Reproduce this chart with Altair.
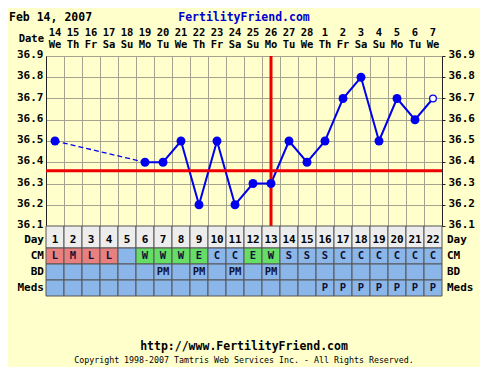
import altair as alt
import pandas as pd

# ---------------- data ----------------
day_numbers = list(range(1, 23))
date_labels = ["14", "15", "16", "17", "18", "19", "20", "21", "22", "23", "24",
               "25", "26", "27", "28", "1", "2", "3", "4", "5", "6", "7"]
weekday_labels = ["We", "Th", "Fr", "Sa", "Su", "Mo", "Tu", "We", "Th", "Fr", "Sa",
                  "Su", "Mo", "Tu", "We", "Th", "Fr", "Sa", "Su", "Mo", "Tu", "We"]
temperatures = [36.5, None, None, None, None, 36.4, 36.4, 36.5, 36.2, 36.5, 36.2,
                36.3, 36.3, 36.5, 36.4, 36.5, 36.7, 36.8, 36.5, 36.7, 36.6, 36.7]
cm_codes = ["L", "M", "L", "L", "", "W", "W", "W", "E", "C", "C",
            "E", "W", "S", "S", "S", "C", "C", "C", "C", "C", "C"]
bd_codes = ["", "", "", "", "", "", "PM", "", "PM", "", "PM",
            "", "PM", "", "", "", "", "", "", "", "", ""]
meds_codes = ["", "", "", "", "", "", "", "", "", "", "",
              "", "", "", "", "P", "P", "P", "P", "P", "P", "P"]
temp_ticks = [36.1, 36.2, 36.3, 36.4, 36.5, 36.6, 36.7, 36.8, 36.9]
coverline_temp = 36.36
ovulation_day = 13
chart_date = "Feb 14, 2007"
site_name = "FertilityFriend.com"
footer_url = "http://www.FertilityFriend.com"
copyright_text = "Copyright 1998-2007 Tamtris Web Services Inc. - All Rights Reserved."
row_names = ["Day", "CM", "BD", "Meds"]

# ---------------- styling ----------------
FONT = "DejaVu Sans Mono"
BG = "#FFFFCC"
GRID = "#A3A38F"
BLUE = "#0000EE"
RED = "#EE0000"
CELL_BLUE = "#8AB6EA"
CELL_RED = "#E88080"
CELL_GREEN = "#66DD66"
DAY_GREY = "#EDEDED"
FS = 10.5

W, H = 396, 170
row_top = [0, 22, 38, 54]
row_bot = [22, 38, 54, 70]
row_dy = [3, 0, 0, 0]

df = pd.DataFrame({
    "day": day_numbers, "date": date_labels, "wd": weekday_labels,
    "temp": temperatures,
})
measured = df.dropna(subset=["temp"]).reset_index(drop=True)
dashed = measured.iloc[[0, 1]]
solid = measured.iloc[1:]
filled_pts = measured.iloc[:-1]
open_pt = measured.iloc[-1:]

xs = alt.Scale(domain=[0.5, 22.5], nice=False, zero=False)
ys = alt.Scale(domain=[36.1, 36.9], nice=False, zero=False)
ts = alt.Scale(domain=[0, 70], range=[H, H + 70], nice=False, zero=False)

x_axis = alt.Axis(values=[i + 0.5 for i in range(23)], grid=True, gridColor=GRID,
                  gridOpacity=1, labels=False, ticks=False, domain=True,
                  domainColor="#222", title=None, orient="bottom")
y_axis_left = alt.Axis(values=temp_ticks, format=".1f", grid=True, gridColor=GRID,
                       gridOpacity=1, ticks=False, labelPadding=3, domainColor="#222",
                       labelFont=FONT, labelFontSize=11, labelFontWeight="bold",
                       labelColor="#000", title=None, orient="left", labelOffset=-1.5)
y_axis_right = alt.Axis(values=temp_ticks, format=".1f", grid=False, ticks=True,
                        tickSize=3, tickColor="#222", labelPadding=3,
                        domainColor="#222", labelFont=FONT, labelFontSize=11,
                        labelFontWeight="bold", labelColor="#000", title=None,
                        orient="right", labelOffset=-1.5)


def X(field="day"):
    return alt.X(f"{field}:Q", scale=xs, axis=x_axis)


def Y(field="temp"):
    return alt.Y(f"{field}:Q", scale=ys, axis=y_axis_left)


line_solid = alt.Chart(solid).mark_line(color=BLUE, strokeWidth=2).encode(x=X(), y=Y())
line_dash = alt.Chart(dashed).mark_line(color=BLUE, strokeWidth=1.3,
                                        strokeDash=[5, 3]).encode(x=X(), y=Y())
cover = alt.Chart(pd.DataFrame({"c": [coverline_temp]})).mark_rule(
    color=RED, strokeWidth=3).encode(y=Y("c"))
ovul = alt.Chart(pd.DataFrame({"o": [ovulation_day]})).mark_rule(
    color=RED, strokeWidth=3).encode(x=X("o"))
pts = alt.Chart(filled_pts).mark_circle(color=BLUE, size=80, opacity=1).encode(x=X(), y=Y())
pt_open = alt.Chart(open_pt).mark_point(color=BLUE, fill="white", filled=False,
                                        size=45, strokeWidth=1.3, opacity=1).encode(x=X(), y=Y())


def txt(**kw):
    base = dict(font=FONT, fontSize=FS, fontWeight="bold", color="#000",
                baseline="middle")
    base.update(kw)
    return base


hdr_date = alt.Chart(df).mark_text(**txt()).encode(x=X(), y=alt.value(-23), text="date:N")
hdr_wd = alt.Chart(df).mark_text(**txt()).encode(x=X(), y=alt.value(-11), text="wd:N")
date_lbl = alt.Chart(pd.DataFrame({"t": ["Date"]})).mark_text(**txt(align="right")).encode(
    x=alt.value(-2), y=alt.value(-17), text="t:N")
title_l = alt.Chart(pd.DataFrame({"t": [chart_date]})).mark_text(
    **txt(fontSize=11.5, align="left")).encode(x=alt.value(-37), y=alt.value(-38), text="t:N")
title_c = alt.Chart(pd.DataFrame({"t": [site_name]})).mark_text(
    **txt(fontSize=11.5, color="#0000CC", align="center")).encode(
    x=alt.value(W / 2), y=alt.value(-38), text="t:N")
foot1 = alt.Chart(pd.DataFrame({"t": [footer_url]})).mark_text(
    **txt(fontSize=11.5, align="center")).encode(x=alt.value(W / 2), y=alt.value(291), text="t:N")
foot2 = alt.Chart(pd.DataFrame({"t": [copyright_text]})).mark_text(
    **txt(fontSize=8.3, fontWeight="normal", align="center")).encode(
    x=alt.value(W / 2), y=alt.value(305), text="t:N")

temp_group = alt.layer(line_solid, cover, ovul, line_dash, pts, pt_open,
                       hdr_date, hdr_wd, date_lbl, title_l, title_c, foot1, foot2)

right_axis = alt.Chart(measured).mark_point(opacity=0).encode(
    x=X(), y=alt.Y("temp:Q", scale=ys, axis=y_axis_right))

# ---------------- table ----------------
def cm_color(c):
    if c in ("L", "M", "H"):
        return CELL_RED
    if c in ("W", "E"):
        return CELL_GREEN
    return CELL_BLUE


recs = []
for i, d in enumerate(day_numbers):
    vals = [str(d), cm_codes[i], bd_codes[i], meds_codes[i]]
    fills = [DAY_GREY, cm_color(cm_codes[i]), CELL_BLUE, CELL_BLUE]
    for r in range(4):
        recs.append({"day": d, "x0": d - 0.5, "x1": d + 0.5, "y0": row_top[r],
                     "y1": row_bot[r],
                     "mid": (row_top[r] + row_bot[r]) / 2 + row_dy[r],
                     "label": vals[r], "fill": fills[r], "row": row_names[r],
                     "big": r == 0})
cells = pd.DataFrame(recs)

TY = lambda f: alt.Y(f"{f}:Q", scale=ts, axis=None)

cell_rect = alt.Chart(cells).mark_rect(stroke="#555", strokeWidth=1).encode(
    x=X("x0"), x2="x1:Q", y=TY("y0"), y2="y1:Q",
    fill=alt.Fill("fill:N", scale=None))
cell_text_day = alt.Chart(cells[cells.big]).mark_text(**txt(fontSize=11)).encode(
    x=X(), y=TY("mid"), text="label:N")
cell_text = alt.Chart(cells[~cells.big]).mark_text(**txt(color="#111133")).encode(
    x=X(), y=TY("mid"), text="label:N")

rows_df = pd.DataFrame({"row": row_names,
                        "mid": [(a + b) / 2 + dy for a, b, dy in zip(row_top, row_bot, row_dy)]})
row_lbl_l = alt.Chart(rows_df).mark_text(**txt(fontSize=11, align="right")).encode(
    x=alt.value(-2), y=TY("mid"), text="row:N")
row_lbl_r = alt.Chart(rows_df).mark_text(**txt(fontSize=11, align="left")).encode(
    x=alt.value(W + 5), y=TY("mid"), text="row:N")

table_group = alt.layer(cell_rect, cell_text_day, cell_text, row_lbl_l, row_lbl_r)

chart = alt.layer(temp_group, right_axis, table_group).resolve_scale(
    y="independent"
).properties(
    width=W, height=H,
    padding={"left": 38, "top": 48, "right": 38, "bottom": 141},
    autosize=alt.AutoSizeParams(type="none"),
    background=BG,
).configure_view(fill=BG, stroke=None)

chart.save("out.html", embed_options={"renderer": "svg", "actions": False})
